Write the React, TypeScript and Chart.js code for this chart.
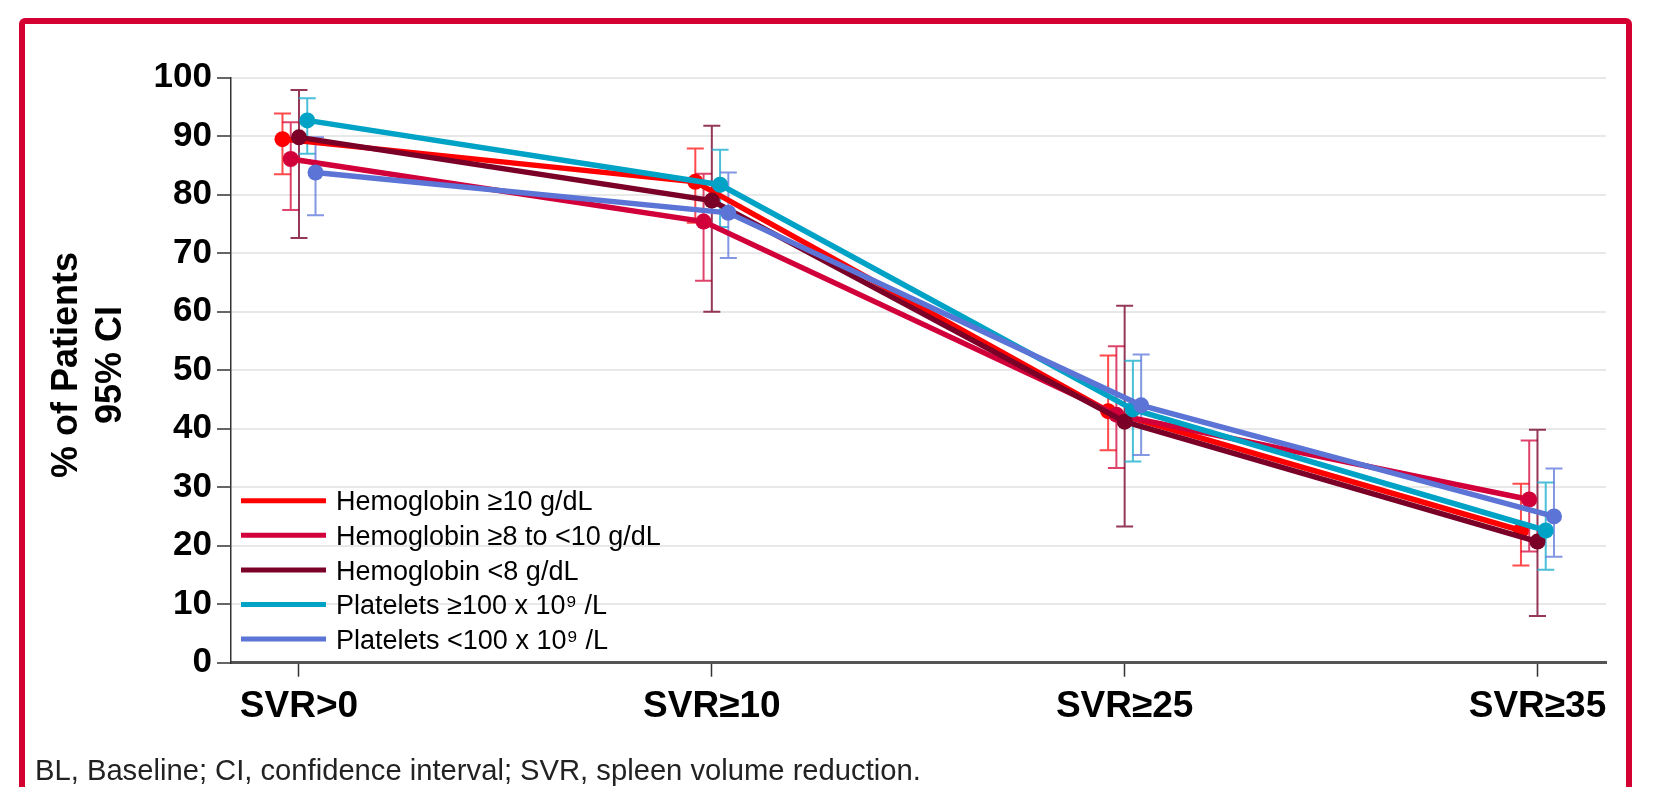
import React, { useEffect, useRef } from 'react';
import { Chart, registerables } from 'chart.js';

Chart.register(...registerables);

const categories = ['SVR>0', 'SVR≥10', 'SVR≥25', 'SVR≥35'];

const seriesLabels = [
  'Hemoglobin ≥10 g/dL',
  'Hemoglobin ≥8 to <10 g/dL',
  'Hemoglobin <8 g/dL',
  'Platelets ≥100 x 10⁹ /L',
  'Platelets <100 x 10⁹ /L',
];

const seriesColors = ['#FF0000', '#D2003A', '#7A0028', '#00A3C6', '#5B74D6'];
const errorColors = [
  'rgba(255,30,30,0.8)',
  'rgba(214,20,70,0.8)',
  'rgba(130,20,60,0.85)',
  'rgba(30,175,205,0.8)',
  'rgba(100,125,220,0.8)',
];

// point estimates (% of patients)
const hgbHigh = [89.5, 82.2, 43.0, 22.6];
const hgbMid = [86.1, 75.4, 42.4, 27.9];
const hgbLow = [89.8, 79.0, 41.2, 20.7];
const pltHigh = [92.7, 81.7, 43.3, 22.6];
const pltLow = [83.8, 76.9, 44.0, 25.0];

// 95% CI lower bounds
const hgbHighLo = [83.5, 75.2, 36.3, 16.6];
const hgbMidLo = [77.4, 65.3, 33.3, 19.0];
const hgbLowLo = [72.6, 60.0, 23.3, 8.0];
const pltHighLo = [87.0, 74.5, 34.4, 15.9];
const pltLowLo = [76.5, 69.2, 35.5, 18.1];

// 95% CI upper bounds
const hgbHighHi = [93.9, 87.9, 52.5, 30.6];
const hgbMidHi = [92.4, 83.6, 54.1, 38.0];
const hgbLowHi = [97.9, 91.8, 61.0, 39.8];
const pltHighHi = [96.5, 87.7, 51.6, 30.8];
const pltLowHi = [89.8, 83.8, 52.7, 33.2];

const seriesValues = [hgbHigh, hgbMid, hgbLow, pltHigh, pltLow];
const seriesLo = [hgbHighLo, hgbMidLo, hgbLowLo, pltHighLo, pltLowLo];
const seriesHi = [hgbHighHi, hgbMidHi, hgbLowHi, pltHighHi, pltLowHi];
const dodge = [-0.04, -0.02, 0, 0.02, 0.04];

const yTitleLines = ['% of Patients', '95% CI'];
const footnote = 'BL, Baseline; CI, confidence interval; SVR, spleen volume reduction.';

const FONT = '"Liberation Sans", Arial, Helvetica, sans-serif';

const errorBarPlugin = {
  id: 'errorBars',
  beforeDatasetsDraw(chart: any) {
    const ctx = chart.ctx;
    const y = chart.scales.y;
    chart.data.datasets.forEach((_ds: any, d: number) => {
      const meta = chart.getDatasetMeta(d);
      meta.data.forEach((pt: any, i: number) => {
        const x = pt.x;
        const top = y.getPixelForValue(seriesHi[d][i]);
        const bot = y.getPixelForValue(seriesLo[d][i]);
        ctx.save();
        ctx.strokeStyle = errorColors[d];
        ctx.lineWidth = 2;
        ctx.beginPath();
        ctx.moveTo(x, top);
        ctx.lineTo(x, bot);
        ctx.moveTo(x - 8.5, top);
        ctx.lineTo(x + 8.5, top);
        ctx.moveTo(x - 8.5, bot);
        ctx.lineTo(x + 8.5, bot);
        ctx.stroke();
        ctx.restore();
      });
    });
  },
};

const overlayPlugin = {
  id: 'overlay',
  afterDraw(chart: any) {
    const ctx = chart.ctx;
    const area = chart.chartArea;
    // legend
    ctx.save();
    const x0 = area.left + 10;
    const y0 = area.bottom - 162;
    seriesLabels.forEach((label, k) => {
      const yy = y0 + k * 34.6;
      ctx.strokeStyle = seriesColors[k];
      ctx.lineWidth = 5;
      ctx.beginPath();
      ctx.moveTo(x0, yy);
      ctx.lineTo(x0 + 85, yy);
      ctx.stroke();
      ctx.fillStyle = '#000';
      ctx.font = `27px ${FONT}`;
      ctx.textAlign = 'left';
      ctx.textBaseline = 'alphabetic';
      ctx.fillText(label, x0 + 95, yy + 9.7);
    });
    ctx.restore();
    // y-axis title
    ctx.save();
    ctx.fillStyle = '#000';
    ctx.font = `bold 36px ${FONT}`;
    ctx.textAlign = 'center';
    ctx.textBaseline = 'middle';
    const cy = 365;
    const xs = [67, 111];
    yTitleLines.forEach((t, k) => {
      ctx.save();
      ctx.translate(xs[k], cy);
      ctx.rotate(-Math.PI / 2);
      ctx.fillText(t, 0, 0);
      ctx.restore();
    });
    ctx.restore();
  },
};

export default function App() {
  const canvasRef = useRef<HTMLCanvasElement | null>(null);

  useEffect(() => {
    const canvas = canvasRef.current;
    if (!canvas) return;
    const chart = new Chart(canvas, {
      type: 'line',
      data: {
        datasets: seriesLabels.map((label, s) => ({
          label,
          data: seriesValues[s].map((v, i) => ({ x: i + dodge[s], y: v })),
          borderColor: seriesColors[s],
          backgroundColor: seriesColors[s],
          borderWidth: 5.5,
          pointRadius: 8,
          pointBorderWidth: 0,
          pointHoverRadius: 8,
          fill: false,
          tension: 0,
          order: 4 - s,
        })),
      },
      options: {
        animation: false,
        responsive: false,
        devicePixelRatio: 1,
        layout: { padding: { left: 0, top: 77.7, right: 54, bottom: 0 } },
        plugins: {
          legend: { display: false },
          tooltip: { enabled: false },
          title: { display: false },
        },
        scales: {
          x: {
            type: 'linear',
            min: -0.1647,
            max: 3.166,
            afterBuildTicks: (scale: any) => {
              scale.ticks = categories.map((_c, i) => ({ value: i }));
            },
            afterFit: (scale: any) => {
              scale.height = 787 - 662.7;
            },
            ticks: {
              autoSkip: false,
              maxRotation: 0,
              color: '#000',
              padding: 8,
              font: { family: FONT, size: 37, weight: 'bold' },
              callback: (v: any) => categories[Math.round(Number(v))] ?? '',
            },
            grid: {
              drawOnChartArea: false,
              drawTicks: true,
              tickLength: 14,
              tickColor: '#333',
              tickWidth: 1.5,
            },
            border: { display: true, color: '#555', width: 3 },
          },
          y: {
            type: 'linear',
            min: 0,
            max: 100,
            afterFit: (scale: any) => {
              scale.width = 231;
            },
            ticks: {
              stepSize: 10,
              color: '#000',
              padding: 5,
              font: { family: FONT, size: 35, weight: 'bold' },
            },
            grid: {
              color: '#e8e8e8',
              lineWidth: 2,
              drawTicks: true,
              tickLength: 14,
              tickColor: '#333',
              tickWidth: 1.5,
            },
            border: { display: true, color: '#333', width: 1.5 },
          },
        },
      },
      plugins: [errorBarPlugin, overlayPlugin],
    } as any);
    return () => chart.destroy();
  }, []);

  return (
    <div
      style={{
        position: 'fixed',
        left: 0,
        top: 0,
        width: 1660,
        height: 787,
        overflow: 'hidden',
        background: '#fff',
      }}
    >
      <div
        style={{
          position: 'absolute',
          left: 19,
          top: 18,
          width: 1613,
          height: 900,
          boxSizing: 'border-box',
          border: '6px solid #D50032',
          borderRadius: 6,
        }}
      />
      <canvas
        ref={canvasRef}
        width={1660}
        height={787}
        style={{ position: 'absolute', left: 0, top: 0, width: 1660, height: 787 }}
      />
      <div
        style={{
          position: 'absolute',
          left: 35,
          top: 754,
          fontFamily: FONT,
          fontSize: 29.2,
          lineHeight: '33px',
          color: '#222',
          whiteSpace: 'nowrap',
        }}
      >
        {footnote}
      </div>
    </div>
  );
}
